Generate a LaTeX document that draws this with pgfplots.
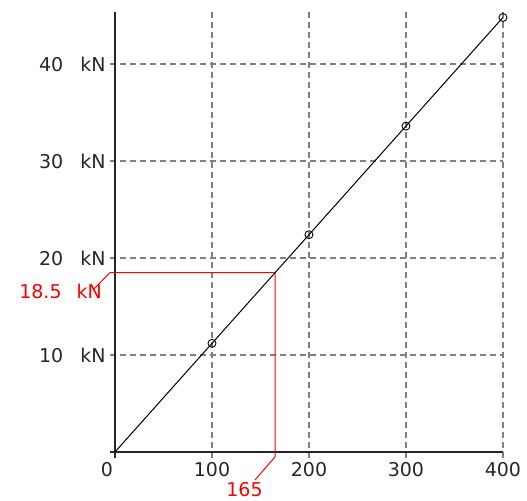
\documentclass[border=0pt]{standalone}
\usepackage{pgfplots}
\pgfplotsset{compat=1.18}
\usepackage{fontspec}
\setmainfont{DejaVu Sans}
\definecolor{gridgray}{RGB}{128,128,128}
\begin{document}
\begin{tikzpicture}
\begin{axis}[
 scale only axis, width=388bp, height=440.4bp,
 xmin=0,xmax=400,ymin=0,ymax=45.4,
 clip=false,
 axis line style={draw=none},
 tick style={draw=none},
 xtick={0,100,200,300,400},
 xticklabels={\makebox[0pt]{\hspace{-16bp}0},100,200,300,400},
 ytick={10,20,30,40},
 yticklabels={10\hspace{17bp}kN,20\hspace{17bp}kN,30\hspace{17bp}kN,40\hspace{17bp}kN},
 ticklabel style={font=\fontsize{19bp}{22bp}\selectfont, text=black!85},
 /pgf/number format/assume math mode=true,
 xticklabel style={yshift=-7bp},
 yticklabel style={xshift=-6bp},
]
% grid
\addplot[gridgray, dash pattern=on 6bp off 4bp, line width=1.2bp] coordinates {(-5,10)(400,10)};
\addplot[gridgray, dash pattern=on 6bp off 4bp, line width=1.2bp] coordinates {(-5,20)(400,20)};
\addplot[gridgray, dash pattern=on 6bp off 4bp, line width=1.2bp] coordinates {(-5,30)(400,30)};
\addplot[gridgray, dash pattern=on 6bp off 4bp, line width=1.2bp] coordinates {(-5,40)(400,40)};
\addplot[gridgray, dash pattern=on 6bp off 4bp, line width=1.2bp] coordinates {(100,-0.6)(100,45.6)};
\addplot[gridgray, dash pattern=on 6bp off 4bp, line width=1.2bp] coordinates {(200,-0.6)(200,45.6)};
\addplot[gridgray, dash pattern=on 6bp off 4bp, line width=1.2bp] coordinates {(300,-0.6)(300,45.6)};
\addplot[gridgray, dash pattern=on 6bp off 4bp, line width=1.2bp] coordinates {(400,-0.6)(400,45.6)};
% axes
\addplot[black!85, line width=1.3bp] coordinates {(0,-0.6)(0,45.4)};
\addplot[black!85, line width=1.3bp] coordinates {(-5,0)(400,0)};
% red construction
\addplot[red, line width=1bp] coordinates {(-22.7,16.7)(-5.2,18.5)(165,18.5)(165,-0.5)(144.3,-2.9)};
% data
\addplot[black, line width=1bp, mark=o, mark size=4bp, mark indices={2,3,4,5}, mark options={solid, line width=0.9bp}] coordinates {(0,0)(100,11.2)(200,22.4)(300,33.6)(400,44.8)};
\node[red, anchor=east, inner sep=0pt, font=\fontsize{19bp}{22bp}\selectfont] at (axis cs:-13.4,16.6) {18.5\hspace{15bp}kN};
\node[red, inner sep=0pt, font=\fontsize{19bp}{22bp}\selectfont] at (axis cs:133.5,-3.87) {165};
\coordinate (bl) at (axis cs:-118.6,-5.05);
\coordinate (tr) at (axis cs:424.8,46.6);
\end{axis}
\pgfresetboundingbox
\useasboundingbox (bl) rectangle (tr);
\end{tikzpicture}
\end{document}
